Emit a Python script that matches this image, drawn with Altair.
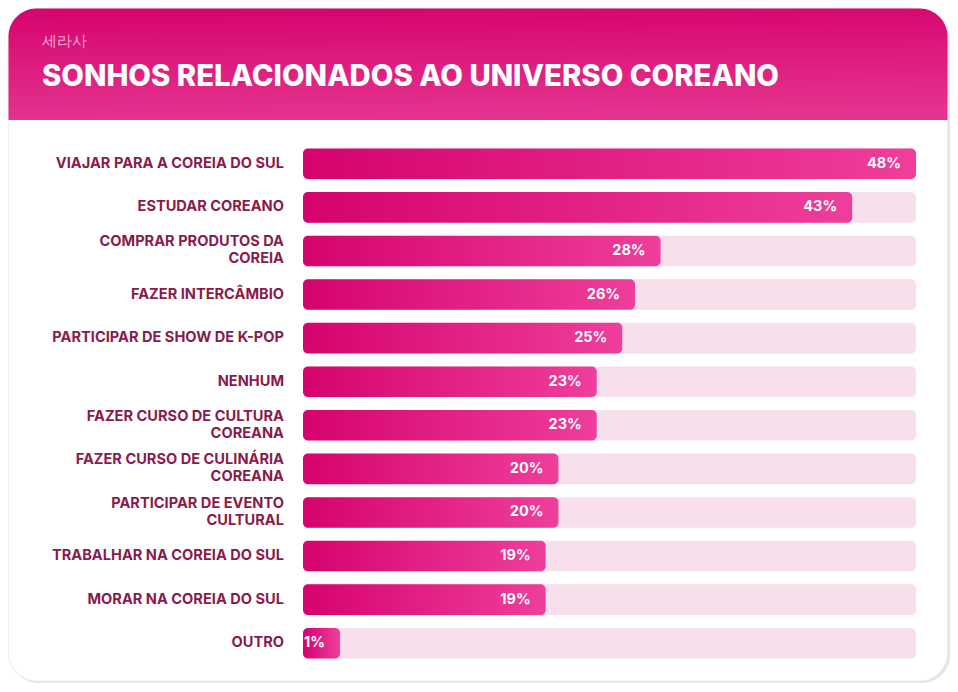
import altair as alt
import pandas as pd

categories = [
    "VIAJAR PARA A COREIA DO SUL",
    "ESTUDAR COREANO",
    "COMPRAR PRODUTOS DA\nCOREIA",
    "FAZER INTERCÂMBIO",
    "PARTICIPAR DE SHOW DE K-POP",
    "NENHUM",
    "FAZER CURSO DE CULTURA\nCOREANA",
    "FAZER CURSO DE CULINÁRIA\nCOREANA",
    "PARTICIPAR DE EVENTO\nCULTURAL",
    "TRABALHAR NA COREIA DO SUL",
    "MORAR NA COREIA DO SUL",
    "OUTRO",
]
values = [48, 43, 28, 26, 25, 23, 23, 20, 20, 19, 19, 1]

title_text = "SONHOS RELACIONADOS AO UNIVERSO COREANO"
subtitle_text = "세라사"

df = pd.DataFrame({"label": categories, "value": values})

FONT = "Inter"
W, H = 613, 523
PAD = {"left": 295, "top": 134, "right": 34, "bottom": 19}

one = alt.Data(values=[{"k": 1}])

bar_grad = alt.LinearGradient(
    gradient="linear",
    stops=[alt.GradientStop(color="#D5036E", offset=0),
           alt.GradientStop(color="#EF3E9C", offset=1)],
    x1=0, x2=1, y1=0, y2=0,
)
head_grad = alt.LinearGradient(
    gradient="linear",
    stops=[alt.GradientStop(color="#D6056F", offset=0),
           alt.GradientStop(color="#E5348F", offset=1)],
    x1=0.3, x2=0.4, y1=0, y2=1,
)

L, R = -PAD["left"], W + PAD["right"]
T = -PAD["top"]
B = H + PAD["bottom"]

shadow = alt.Chart(one).mark_rect(
    fill="#DADADA", cornerRadius=28, opacity=0.7
).encode(x=alt.value(L + 2), x2=alt.value(R), y=alt.value(T + 3), y2=alt.value(B - 1))

card = alt.Chart(one).mark_rect(
    fill="white", cornerRadius=28, stroke="#EDEDED", strokeWidth=1
).encode(x=alt.value(L + 0.5), x2=alt.value(R - 2.5), y=alt.value(T + 0.5), y2=alt.value(B - 3))

header = alt.Chart(one).mark_rect(
    fill=head_grad, cornerRadiusTopLeft=28, cornerRadiusTopRight=28
).encode(x=alt.value(L + 0.5), x2=alt.value(R - 2.5), y=alt.value(T + 0.5), y2=alt.value(T + 112))

subtitle = alt.Chart(one).mark_text(
    text=subtitle_text, font=FONT, fontSize=14.5, color="#F5A8CE", align="left",
    baseline="middle"
).encode(x=alt.value(-261), y=alt.value(T + 34))

title = alt.Chart(one).mark_text(
    text=title_text, font=FONT, fontSize=29.3, fontWeight=800, color="white",
    align="left", baseline="alphabetic"
).encode(x=alt.value(-261), y=alt.value(T + 78))

yenc = alt.Y("label:N", sort=categories,
             scale=alt.Scale(paddingInner=0.3, paddingOuter=0.15), axis=None)
xscale = alt.Scale(domain=[0, 48], nice=False, zero=True)

base = alt.Chart(df).transform_joinaggregate(
    vmax="max(value)"
).transform_calculate(
    barEnd="max(datum.value, 2.9)",
    txt="datum.value + '%'",
    zero="0",
    multi="indexof(datum.label, '\\n') >= 0",
)

track = base.mark_bar(color="#F7DFEB", cornerRadius=5).encode(
    y=yenc,
    x=alt.X("zero:Q", scale=xscale, axis=None),
    x2="vmax:Q",
)

bars = base.mark_bar(fill=bar_grad, cornerRadius=5).encode(
    y=yenc,
    x=alt.X("zero:Q", scale=xscale, axis=None),
    x2="barEnd:Q",
)

label_style = dict(
    font=FONT, fontSize=14.6, fontWeight=700, color="#8A1A4B", align="right",
    baseline="middle", lineBreak="\n", lineHeight=17
)

labels1 = base.transform_filter("!datum.multi").mark_text(**label_style).encode(
    y=yenc, x=alt.value(-19), text="label:N",
)
labels2 = base.transform_filter("datum.multi").mark_text(dy=-8.5, **label_style).encode(
    y=yenc, x=alt.value(-19), text="label:N",
)

vlabels = base.mark_text(
    font=FONT, fontSize=14.5, fontWeight=700, color="white", align="right",
    baseline="middle", dx=-15
).encode(
    y=yenc,
    x=alt.X("barEnd:Q", scale=xscale, axis=None),
    text="txt:N",
)

chart = alt.layer(
    shadow, card, header, subtitle, title, track, bars, labels1, labels2, vlabels
).properties(
    width=W, height=H, padding=PAD,
    autosize=alt.AutoSizeParams(type="none"),
    background="white",
).configure_view(stroke=None)

chart.save("out.html", embed_options={"renderer": "svg", "actions": False})
